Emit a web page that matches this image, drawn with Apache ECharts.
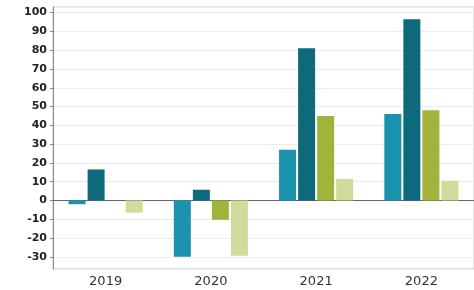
<!DOCTYPE html>
<html>
<head>
<meta charset="utf-8">
<script src="https://cdn.jsdelivr.net/npm/echarts@6/dist/echarts.min.js"></script>
<style>
html, body { margin: 0; padding: 0; background: #fff; }
#chart { width: 474px; height: 290px; }
</style>
</head>
<body>
<div id="chart"></div>
<script>
// 数据
var years = ['2019', '2020', '2021', '2022'];
var serie1 = [-2, -30, 27, 46];
var serie2 = [16.5, 5.7, 81, 96.5];
var serie3 = [0, -10.3, 45, 48];
var serie4 = [-6.5, -29.5, 11.5, 10.5];

var myChart = echarts.init(document.getElementById('chart'));

function bar(name, data) {
    return {
        name: name,
        type: 'bar',
        barWidth: 17,
        barGap: '12%',
        data: data
    };
}

var option = {
    animation: false,
    color: ['#1b93ae', '#0e697d', '#a2b33b', '#d0dc9c'],
    grid: {
        left: 53,
        right: -2,
        top: 7,
        bottom: 21,
        show: true,
        borderColor: '#c4c4c4',
        borderWidth: 1
    },
    xAxis: {
        type: 'category',
        data: years,
        axisLine: { lineStyle: { color: '#666' } },
        axisTick: { show: false },
        axisLabel: {
            color: '#333',
            fontFamily: 'DejaVu Sans',
            fontSize: 13,
            margin: 6
        }
    },
    yAxis: {
        type: 'value',
        min: -36.5,
        max: 103,
        splitNumber: 14,
        axisLine: { show: true, lineStyle: { color: '#888' } },
        axisTick: { show: true, length: 3, lineStyle: { color: '#888' } },
        axisLabel: {
            showMinLabel: false,
            showMaxLabel: false,
            color: '#222',
            fontFamily: 'DejaVu Sans',
            fontWeight: 'bold',
            fontSize: 11,
            margin: 6
        },
        splitLine: { lineStyle: { color: '#ececec' } }
    },
    series: [
        bar('s1', serie1),
        bar('s2', serie2),
        bar('s3', serie3),
        bar('s4', serie4)
    ]
};

myChart.setOption(option);
</script>
</body>
</html>
